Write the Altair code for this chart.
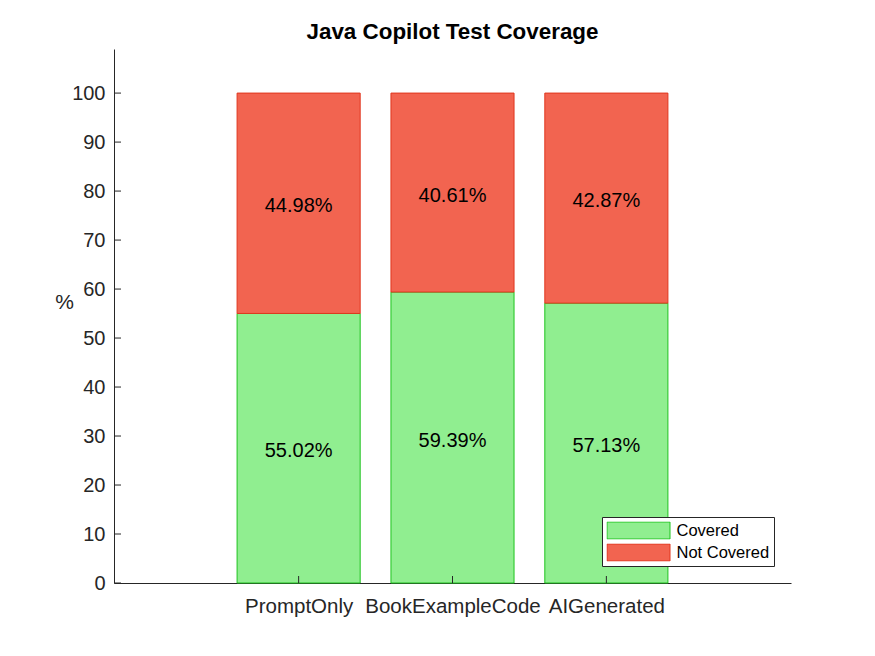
import altair as alt
import pandas as pd

FONT = "Liberation Sans"

categories = ["PromptOnly", "BookExampleCode", "AIGenerated"]
positions = [1, 2, 3]
covered = [55.02, 59.39, 57.13]
not_covered = [44.98, 40.61, 42.87]
series = ["Covered", "Not Covered"]
fill_colors = ["#90EE90", "#F26450"]
stroke_colors = ["#1EC31E", "#E0361E"]
y_ticks = [0, 10, 20, 30, 40, 50, 60, 70, 80, 90, 100]

rows = []
for cat, p, c, n in zip(categories, positions, covered, not_covered):
    rows.append(dict(cat=cat, pos=p, status=series[0], value=c, y0=0.0, y1=c))
    rows.append(dict(cat=cat, pos=p, status=series[1], value=n, y0=c, y1=c + n))
df = pd.DataFrame(rows)

xs = alt.Scale(domain=[-0.2, 4.2], nice=False, zero=False)
ys = alt.Scale(domain=[0, 109], nice=False, zero=False)

label_expr = "[" + ",".join(["''"] + ["'" + c + "'" for c in categories]) + "][datum.value]"

x_axis = alt.Axis(values=positions, labelExpr=label_expr, title=None, ticks=False,
                  grid=False, domainColor="#262626", domainWidth=1, labelFont=FONT,
                  labelFontSize=20.5, labelColor="#262626", labelPadding=13.5, labelBaseline="top",
                  labelOverlap=False, labelFlush=False)
y_axis = alt.Axis(values=y_ticks, ticks=False, grid=False, domainColor="#262626",
                  domainWidth=1, labelFont=FONT, labelFontSize=20, labelColor="#262626",
                  labelPadding=9, labelOverlap=False, labelFlush=False,
                  title="%", titleAngle=0, titleX=-50, titleY=253, titleAlign="center",
                  titleBaseline="middle", titleFont=FONT, titleFontSize=21,
                  titleFontWeight="normal", titleColor="#262626")

leg = alt.Legend(title=None, orient="none", legendX=488, legendY=468, direction="vertical",
                 symbolType="M-1,-0.27H1V0.27H-1Z", symbolSize=3969, symbolStrokeWidth=1,
                 clipHeight=18, rowPadding=4, labelFontSize=16.5, labelFont=FONT,
                 labelColor="#000000", labelOffset=6, padding=4.5, strokeColor="#262626",
                 fillColor="white", symbolOffset=0, labelLimit=300)

bars = alt.Chart(df).transform_calculate(
    xa="datum.pos - 0.4", xb="datum.pos + 0.4"
).mark_bar(strokeWidth=1, opacity=1).encode(
    x=alt.X("xa:Q", scale=xs, axis=x_axis),
    x2="xb:Q",
    y=alt.Y("y0:Q", scale=ys, axis=y_axis),
    y2="y1:Q",
    fill=alt.Fill("status:N", scale=alt.Scale(domain=series, range=fill_colors), legend=leg),
    stroke=alt.Stroke("status:N", scale=alt.Scale(domain=series, range=stroke_colors), legend=leg),
)

texts = alt.Chart(df).transform_calculate(
    mid="(datum.y0 + datum.y1) / 2",
    label="format(datum.value, '.2f') + '%'",
).mark_text(font=FONT, fontSize=20, color="#000000", baseline="middle", align="center", dy=3).encode(
    x=alt.X("pos:Q", scale=xs, axis=x_axis),
    y=alt.Y("mid:Q", scale=ys, axis=y_axis),
    text="label:N",
)

ytick_marks = alt.Chart(pd.DataFrame({"t": y_ticks})).mark_rule(color="#262626", strokeWidth=1).encode(
    y=alt.Y("t:Q", scale=ys, axis=y_axis),
    x=alt.value(0),
    x2=alt.value(7),
)

xtick_marks = alt.Chart(pd.DataFrame({"p": positions})).mark_rule(color="#262626", strokeWidth=1).encode(
    x=alt.X("p:Q", scale=xs, axis=x_axis),
    y=alt.value(534),
    y2=alt.value(527),
)

chart = alt.layer(bars, ytick_marks, xtick_marks, texts).properties(
    width=677,
    height=534,
    background="white",
    padding={"left": 114, "top": 49, "right": 84, "bottom": 73},
    autosize=alt.AutoSizeParams(type="none"),
    title=alt.Title("Java Copilot Test Coverage", font=FONT, fontSize=22.4, fontWeight="bold",
                    color="#000000", anchor="middle", baseline="alphabetic", offset=-12),
).configure_view(stroke=None)

chart.save("out.html", embed_options={"renderer": "svg", "actions": False})
